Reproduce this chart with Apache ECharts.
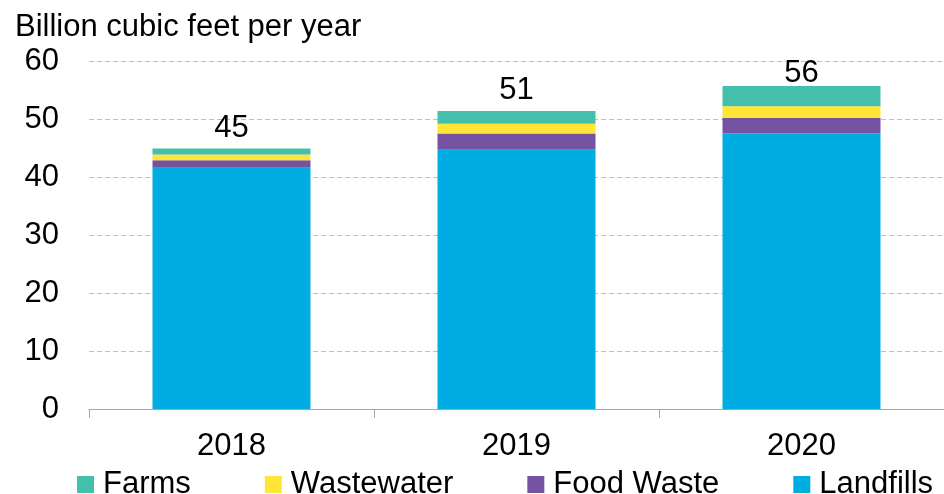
<!DOCTYPE html>
<html><head><meta charset="utf-8">
<script src="https://cdn.jsdelivr.net/npm/echarts@6/dist/echarts.min.js"></script>
<style>html,body{margin:0;padding:0;background:#fff}#c{width:944px;height:494px}</style>
</head><body><div id="c"></div>
<script>
const years = ['2018', '2019', '2020'];
const landfills = [41.6, 44.7, 47.5];
const foodWaste = [1.3, 2.8, 2.7];
const wastewater = [1.0, 1.7, 2.0];
const farms = [1.0, 2.2, 3.5];
const yTicks = [0, 10, 20, 30, 40, 50, 60];
const unitLabel = 'Billion cubic feet per year';

const FONT = 'Liberation Sans, Arial, sans-serif';
const FS = 31;
const totals = years.map((_, i) => landfills[i] + foodWaste[i] + wastewater[i] + farms[i]);

const chart = echarts.init(document.getElementById('c'), null, {renderer: 'canvas'});
function mk(name, data, color, withLabel) {
  const s = {
    name, type: 'bar', stack: 'total', data, barWidth: 158,
    itemStyle: {color},
    emphasis: {disabled: true},
    animation: false
  };
  if (withLabel) {
    s.label = {
      show: true, position: 'top', distance: 5,
      fontFamily: FONT, fontSize: FS, color: '#000',
      formatter: p => String(Math.round(totals[p.dataIndex]))
    };
    // keep the label below the top of the plot, as in the source chart
    s.data = data.map((v, i) => i === data.length - 1 ? {value: v, label: {offset: [0, 8]}} : v);
  }
  return s;
}
chart.setOption({
  animation: false,
  textStyle: {fontFamily: FONT},
  title: {
    text: unitLabel, left: 10, top: 7,
    textStyle: {fontFamily: FONT, fontSize: FS, fontWeight: 'normal', color: '#000'}
  },
  grid: {left: 89, right: -3, top: 61, bottom: 85, containLabel: false},
  legend: {
    data: ['Farms', 'Wastewater', 'Food Waste', 'Landfills'],
    left: 72, top: 464, itemWidth: 17, itemHeight: 17, itemGap: 74,
    icon: 'rect',
    textStyle: {fontFamily: FONT, fontSize: FS, color: '#000', padding: [0, 0, 0, 4]}
  },
  xAxis: {
    type: 'category', data: years,
    axisLine: {lineStyle: {color: '#a6a6a6', width: 1}},
    axisTick: {show: true, length: 9, lineStyle: {color: '#a6a6a6'}},
    axisLabel: {fontFamily: FONT, fontSize: FS, color: '#000', margin: 22}
  },
  yAxis: {
    type: 'value', min: yTicks[0], max: yTicks[yTicks.length - 1], interval: 10,
    axisLine: {show: false}, axisTick: {show: false},
    axisLabel: {fontFamily: FONT, fontSize: FS, color: '#000', margin: 30},
    splitLine: {lineStyle: {color: '#bfbfbf', type: [5, 3], width: 1}}
  },
  series: [
    mk('Landfills', landfills, '#00ADE2', false),
    mk('Food Waste', foodWaste, '#7653A2', false),
    mk('Wastewater', wastewater, '#FFE535', false),
    mk('Farms', farms, '#44BFAB', true)
  ]
});
</script></body></html>
